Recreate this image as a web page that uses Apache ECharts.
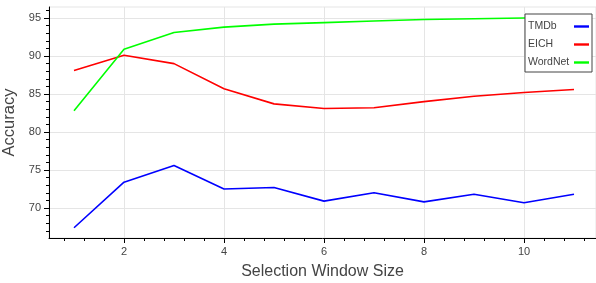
<!DOCTYPE html>
<html>
<head>
<meta charset="utf-8">
<script src="https://cdn.jsdelivr.net/npm/echarts@6/dist/echarts.min.js"></script>
<style>
  html, body { margin: 0; padding: 0; background: #fff; }
  #chart { width: 596px; height: 283px; }
</style>
</head>
<body>
<div id="chart"></div>
<script>
// window sizes on the x axis
const windowSizes = [1, 2, 3, 4, 5, 6, 7, 8, 9, 10, 11];
// accuracy per dataset
const tmdb = [67.4, 73.4, 75.6, 72.5, 72.7, 70.9, 72.0, 70.8, 71.8, 70.7, 71.8];
const eich = [88.1, 90.1, 89.0, 85.7, 83.7, 83.1, 83.2, 84.0, 84.7, 85.2, 85.6];
const wordnet = [82.8, 90.9, 93.1, 93.8, 94.2, 94.4, 94.6, 94.8, 94.9, 95.0, 95.1];
// tick labels
const xTicks = [2, 4, 6, 8, 10];
const yTicks = [70, 75, 80, 85, 90, 95];
const xMinorTicks = [0.8, 1.2, 1.6, 2.4, 2.8, 3.2, 3.6, 4.4, 4.8, 5.2, 5.6, 6.4, 6.8, 7.2, 7.6, 8.4, 8.8, 9.2, 9.6, 10.4, 10.8, 11.2];
const yMinorTicks = [67, 68, 69, 71, 72, 73, 74, 76, 77, 78, 79, 81, 82, 83, 84, 86, 87, 88, 89, 91, 92, 93, 94, 96];

const xRange = [0.5, 11.44];
const yRange = [66.05, 96.45];
const font = 'Liberation Sans, Arial, sans-serif';
const textColor = '#444';
const gridColor = '#e5e5e5';

const chart = echarts.init(document.getElementById('chart'));

const pairs = arr => windowSizes.map((x, i) => [x, arr[i]]);

const mainX = {
  type: 'value', min: xRange[0], max: xRange[1],
  name: 'Selection Window Size', nameLocation: 'middle', nameGap: 26,
  nameTextStyle: { fontFamily: font, fontSize: 16, color: textColor },
  axisLine: { show: true, lineStyle: { color: '#000', width: 1 } },
  axisTick: { show: true, length: 5, customValues: xTicks, lineStyle: { color: '#000' } },
  axisLabel: { customValues: xTicks, fontFamily: font, fontSize: 11, color: textColor, margin: 8 },
  splitLine: { show: true, lineStyle: { color: gridColor } }
};
const minorX = {
  type: 'value', min: xRange[0], max: xRange[1], position: 'bottom',
  axisLine: { show: false },
  axisTick: { show: true, length: 3, customValues: xMinorTicks, lineStyle: { color: '#000' } },
  axisLabel: { show: false },
  splitLine: { show: false }
};
const mainY = {
  type: 'value', min: yRange[0], max: yRange[1],
  name: 'Accuracy', nameLocation: 'middle', nameGap: 21,
  nameTextStyle: { fontFamily: font, fontSize: 16.5, color: textColor },
  axisLine: { show: true, lineStyle: { color: '#000', width: 1 } },
  axisTick: { show: true, length: 5, customValues: yTicks, lineStyle: { color: '#000' } },
  axisLabel: { customValues: yTicks, fontFamily: font, fontSize: 11, color: textColor, margin: 8 },
  splitLine: { show: true, lineStyle: { color: gridColor } }
};
const minorY = {
  type: 'value', min: yRange[0], max: yRange[1], position: 'left',
  axisLine: { show: false },
  axisTick: { show: true, length: 3, customValues: yMinorTicks, lineStyle: { color: '#000' } },
  axisLabel: { show: false },
  splitLine: { show: false }
};

const line = (name, data, color) => ({
  name, type: 'line', data: pairs(data), showSymbol: false, symbol: 'none',
  lineStyle: { color, width: 1.6 }, itemStyle: { color }, animation: false
});

chart.setOption({
  animation: false,
  grid: {
    left: 49, right: 0, top: 7, bottom: 45, containLabel: false, outerBoundsMode: 'none',
    show: true, borderColor: gridColor, borderWidth: 1
  },
  legend: {
    orient: 'vertical', left: 525, top: 14, align: 'right',
    backgroundColor: '#fff', borderColor: '#444', borderWidth: 1,
    padding: [7, 3, 4, 3], itemGap: 7, itemWidth: 15, itemHeight: 12,
    formatter: '{n|{name}}',
    textStyle: {
      fontFamily: font, fontSize: 10.5, color: textColor,
      rich: { n: { width: 41, height: 12, align: 'left', fontFamily: font, fontSize: 10.5, color: textColor } }
    },
    data: ['TMDb', 'EICH', 'WordNet'].map(n => ({ name: n, icon: 'path://M0,4.2L10,4.2L10,5.8L0,5.8Z' }))
  },
  xAxis: [mainX, minorX],
  yAxis: [mainY, minorY],
  series: [
    line('TMDb', tmdb, '#0000ff'),
    line('EICH', eich, '#ff0000'),
    line('WordNet', wordnet, '#00ff00')
  ]
});
</script>
</body>
</html>
